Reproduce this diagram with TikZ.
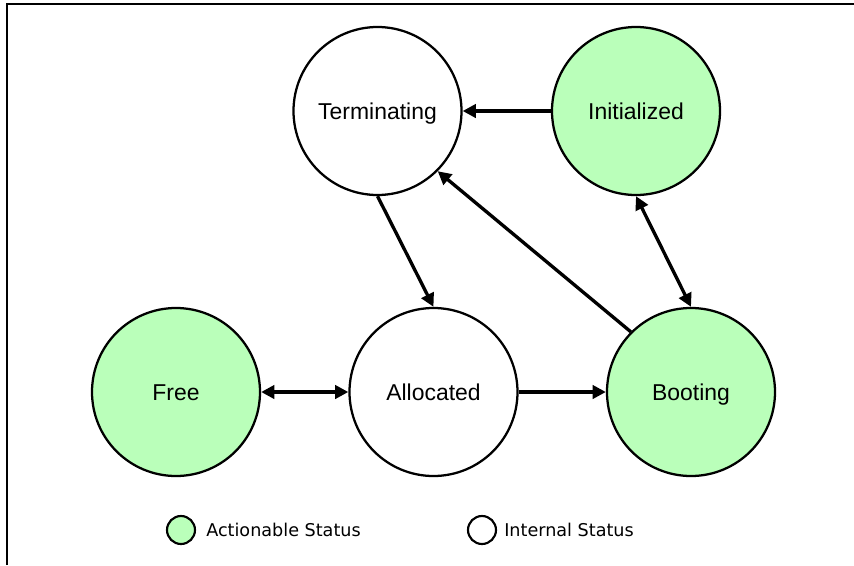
\documentclass[tikz,border=0pt]{standalone}
\usepackage{fontspec}
\newfontfamily\statefont{Liberation Sans}
\newfontfamily\legendfont{DejaVu Sans}
\usetikzlibrary{arrows.meta}
\definecolor{actgreen}{RGB}{186,255,186}
\tikzset{
  state/.style={circle, draw=black, line width=1.7pt, minimum size=126pt,
                inner sep=0pt, text height=12.3pt, text depth=0pt,
                font=\statefont\fontsize{17.2}{20}\selectfont},
  actionable/.style={state, fill=actgreen},
  internal/.style={state, fill=white},
  tip/.tip={Triangle[length=10pt,width=10pt]},
  link/.style={line width=2.5pt, -tip},
  twoway/.style={line width=2.5pt, tip-tip},
  keydot/.style={circle, draw=black, line width=1.6pt, minimum size=21pt, inner sep=0pt},
  keytext/.style={anchor=west, inner sep=0pt, text height=9.6pt, text depth=0pt,
                  font=\legendfont\fontsize{13.2}{16}\selectfont}
}
\begin{document}
\begin{tikzpicture}[x=0.75pt, y=-0.75pt]
\useasboundingbox (0,0) rectangle (854,565);
% frame: top and left edges only
\draw[line width=1.6pt] (7,565) -- (7,4) -- (854,4);

% states
\node[internal]   (term)  at (377.5,111) {Terminating};
\node[actionable] (init)  at (636,111)   {Initialized};
\node[actionable] (free)  at (176,392)   {Free};
\node[internal]   (alloc) at (433.5,392) {Allocated};
\node[actionable] (boot)  at (691,392)   {Booting};

% transitions
\draw[link]   (init) -- (term);
\draw[link]   (term.south) -- (alloc.north);
\draw[link]   (boot.north west) -- (term.south east);
\draw[twoway] (init.south) -- (boot.north);
\draw[twoway] (free) -- (alloc);
\draw[link]   (alloc) -- (boot);

% legend
\node[keydot, fill=actgreen] (keyact) at (181,530) {};
\node[keytext] (keyacttxt) at (206,530) {Actionable Status};
\node[keydot, fill=white] (keyint) at (482,530) {};
\node[keytext] (keyinttxt) at (504,530) {Internal Status};
\end{tikzpicture}
\end{document}
